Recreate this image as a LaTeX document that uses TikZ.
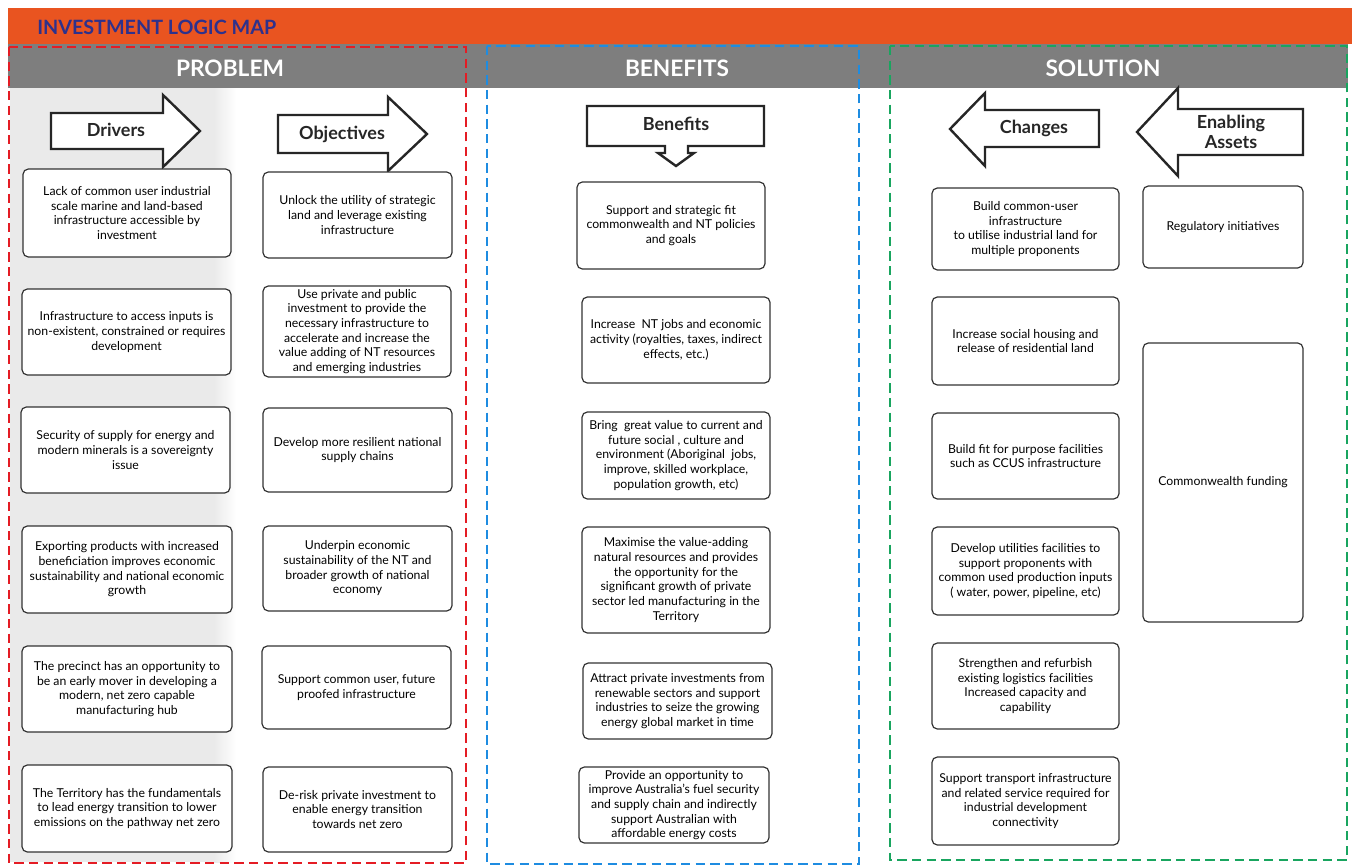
\documentclass[tikz,border=0pt]{standalone}
\usepackage{fontspec}
\setmainfont{Lato}
\definecolor{orangebar}{RGB}{233,84,32}
\definecolor{titleblue}{RGB}{46,49,140}
\definecolor{headgray}{RGB}{126,126,126}
\definecolor{dred}{RGB}{228,28,36}
\definecolor{dblue}{RGB}{30,140,225}
\definecolor{dgreen}{RGB}{25,165,95}
\definecolor{bandgray}{RGB}{234,234,234}
\tikzset{
  box/.style={draw=black!80, line width=0.9pt, rounded corners=4pt, fill=white,
    align=center, inner sep=2pt, font=\fontsize{9.2}{11}\selectfont},
  blockarrow/.style={draw=black!85, line width=1.8pt, fill=white, line join=miter},
  arrowlabel/.style={align=center, font=\bfseries\fontsize{13.5}{14.5}\selectfont, text=black!85},
  headlabel/.style={text=white, font=\bfseries\fontsize{17}{19}\selectfont},
  frame/.style={line width=1.7pt, dash pattern=on 7pt off 4pt},
}
\newcommand\bx[6]{%
  \pgfmathsetmacro\bw{(#4-#2)*0.75}\pgfmathsetmacro\bh{(#5-#3)*0.75}%
  \node[box, minimum width=\bw pt, minimum height=\bh pt] (#1) at ({(#2+#4)/2},{(#3+#5)/2}) {#6};}
\begin{document}
\begin{tikzpicture}[x=0.75pt,y=-0.75pt]
\useasboundingbox (0,0) rectangle (1363,867);
\fill[white] (0,0) rectangle (1363,867);
% title bar
\fill[orangebar] (8,8) rectangle (1352,44);
\node[anchor=west, text=titleblue, font=\bfseries\fontsize{14.8}{16}\selectfont, inner sep=0pt] (title) at (37,27) {INVESTMENT LOGIC MAP};
% header bar
\fill[headgray] (8,44) rectangle (1348,88);
\node[headlabel] (hprob) at (230,68) {PROBLEM};
\node[headlabel] (hben) at (677,68) {BENEFITS};
\node[headlabel] (hsol) at (1103,68) {SOLUTION};
% drivers band
\fill[bandgray] (10,88) rectangle (214,862);
\shade[left color=bandgray, right color=white] (214,88.5) rectangle (236,862);
% frames
\draw[frame, dred] (9,47) rectangle (466,863);
\draw[frame, dblue] (487,46) rectangle (859,864);
\draw[frame, dgreen, line width=1.3pt] (890,46) rectangle (1347,860);
% block arrows
\draw[blockarrow] (51,113) -- (163,113) -- (163,95) -- (200,131) -- (163,167) -- (163,149) -- (51,149) -- cycle;
\node[arrowlabel] (drv) at (116,130) {Drivers};
\draw[blockarrow] (278,115) -- (388,115) -- (388,97) -- (427,134) -- (388,171) -- (388,153) -- (278,153) -- cycle;
\node[arrowlabel] (obj) at (342,134) {Objectives};
\draw[blockarrow] (587,106) -- (764,106) -- (764,146) -- (688,146) -- (688,153) -- (694,153) -- (676,166) -- (658,153) -- (665,153) -- (665,146) -- (587,146) -- cycle;
\node[arrowlabel] (ben) at (676,124) {Benefits};
\draw[blockarrow] (950,129) -- (985,93) -- (985,110) -- (1099,110) -- (1099,147) -- (985,147) -- (985,166) -- cycle;
\node[arrowlabel] (chg) at (1034,128) {Changes};
\draw[blockarrow] (1137,132) -- (1178,88) -- (1178,109) -- (1303,109) -- (1303,155) -- (1178,155) -- (1178,176) -- cycle;
\node[arrowlabel] (ena) at (1231,132) {Enabling\\Assets};
% drivers
\bx{d1}{23}{169}{231}{257}{Lack of common user industrial\\scale marine and land-based\\infrastructure accessible by\\investment}
\bx{d2}{22}{289}{231}{375}{Infrastructure to access inputs is\\non-existent, constrained or requires\\development}
\bx{d3}{21}{407}{230}{493}{Security of supply for energy and\\modern minerals is a sovereignty\\issue}
\bx{d4}{22}{526}{232}{613}{Exporting products with increased\\beneficiation improves economic\\sustainability and national economic\\growth}
\bx{d5}{22}{646}{232}{732}{The precinct has an opportunity to\\be an early mover in developing a\\modern, net zero capable\\manufacturing hub}
\bx{d6}{22}{765}{232}{852}{The Territory has the fundamentals\\to lead energy transition to lower\\emissions on the pathway net zero}
% objectives
\bx{o1}{263}{172}{452}{258}{Unlock the utility of strategic\\land and leverage existing\\infrastructure}
\bx{o2}{263}{286}{451}{377}{Use private and public\\investment to provide the\\necessary infrastructure to\\accelerate and increase the\\value adding of NT resources\\and emerging industries}
\bx{o3}{263}{408}{452}{492}{Develop more resilient national\\supply chains}
\bx{o4}{263}{526}{452}{611}{Underpin economic\\sustainability of the NT and\\broader growth of national\\economy}
\bx{o5}{262}{646}{451}{729}{Support common user, future\\proofed infrastructure}
\bx{o6}{263}{767}{452}{852}{De-risk private investment to\\enable energy transition\\towards net zero}
% benefits
\bx{b1}{577}{182}{765}{269}{Support and strategic fit\\commonwealth and NT policies\\and goals}
\bx{b2}{582}{297}{770}{383}{Increase \ NT jobs and economic\\activity (royalties, taxes, indirect\\effects, etc.)}
\bx{b3}{582}{412}{770}{499}{Bring \ great value to current and\\future social , culture and\\environment (Aboriginal \ jobs,\\improve, skilled workplace,\\population growth, etc)}
\bx{b4}{582}{527}{770}{633}{Maximise the value-adding\\natural resources and provides\\the opportunity for the\\significant growth of private\\sector led manufacturing in the\\Territory}
\bx{b5}{583}{663}{772}{739}{Attract private investments from\\renewable sectors and support\\industries to seize the growing\\energy global market in time}
\bx{b6}{579}{767}{769}{843}{Provide an opportunity to\\improve Australia's fuel security\\and supply chain and indirectly\\support Australian with\\affordable energy costs}
% changes
\bx{c1}{932}{188}{1119}{270}{Build common-user\\infrastructure\\to utilise industrial land for\\multiple proponents}
\bx{c2}{932}{297}{1119}{385}{Increase social housing and\\release of residential land}
\bx{c3}{932}{413}{1119}{499}{Build fit for purpose facilities\\such as CCUS infrastructure}
\bx{c4}{932}{527}{1119}{615}{Develop utilities facilities to\\support proponents with\\common used production inputs\\( water, power, pipeline, etc)}
\bx{c5}{932}{643}{1119}{729}{Strengthen and refurbish\\existing logistics facilities\\Increased capacity and\\capability}
\bx{c6}{932}{757}{1119}{845}{Support transport infrastructure\\and related service required for\\industrial development\\connectivity}
% enabling assets
\bx{e1}{1143}{186}{1303}{268}{Regulatory initiatives}
\bx{e2}{1143}{343}{1303}{622}{Commonwealth funding}
\end{tikzpicture}
\end{document}
